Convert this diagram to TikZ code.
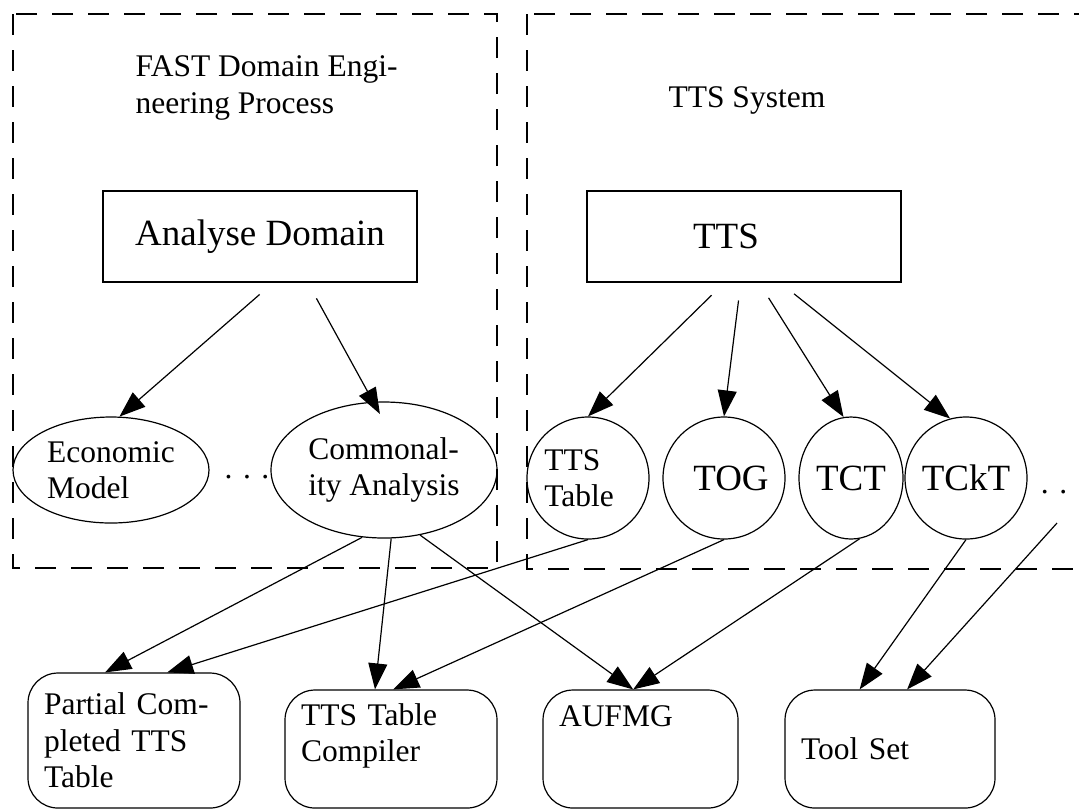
\documentclass[tikz,border=0pt]{standalone}
\usepackage{fontspec}
\setmainfont{Liberation Serif}
\usetikzlibrary{arrows.meta,shapes.geometric}
\newcommand{\smalltext}{\fontsize{15.75}{18.25}\selectfont}
\newcommand{\bigtext}{\fontsize{18.5}{22}\selectfont}
\begin{document}
\begin{tikzpicture}[
  x=0.5pt, y=-0.5pt, line width=0.6pt,
  areaframe/.style={dash pattern=on 10.5pt off 7.5pt},
  procbox/.style={draw, rectangle, minimum width=157pt, minimum height=45.5pt, font=\bigtext},
  docellipse/.style={draw, ellipse, inner sep=0pt, align=left, font=\smalltext},
  toolcircle/.style={draw, circle, minimum size=61pt, inner sep=0pt, align=left},
  productbox/.style={draw, rectangle, rounded corners=15pt, inner xsep=8pt, align=left, font=\smalltext},
  arrow/.style={-{Triangle[length=13pt,width=9.5pt]}}
]
\useasboundingbox (0,0) rectangle (1079,811);
\clip (0,0) rectangle (1079,811);
\draw[areaframe] (13,14) rectangle (497,568);
\draw[areaframe] (527,14) rectangle (1120,569);
\node[anchor=north west, inner sep=0pt, align=left, font=\smalltext] (fasttitle) at (135,55.5) {FAST Domain Engi-\\neering Process};
\node[anchor=base west, inner sep=0pt, font=\smalltext] (ttstitle) at (668,107) {TTS System};
\node[procbox] (ana) at (260,236.5) {Analyse Domain};
\node[procbox] (tts) at (744,236.5) {TTS\hspace*{18pt}};
\node[docellipse, minimum width=98pt, minimum height=53pt] (econ) at (111,470) {Economic\\Model};
\node[docellipse, minimum width=113pt, minimum height=68pt] (comm) at (384,470) {Commonal-\\ity Analysis};
\node[font=\smalltext] (moreleft) at (247,477) {. . .};
\node[toolcircle, font=\smalltext] (ttstab) at (588,478) {TTS\\Table\hspace*{9pt}};
\node[toolcircle, font=\bigtext] (tog) at (724,478) {\hspace*{7pt}TOG};
\node[draw, ellipse, minimum width=52pt, minimum height=61pt, inner sep=0pt, font=\bigtext] (tct) at (851,478) {TCT};
\node[toolcircle, font=\bigtext] (tckt) at (966,478) {TCkT};
\node[font=\smalltext] (moreright) at (1054,492) {. .};
\coordinate (more) at (1057,523);
\node[productbox, text width=90pt, minimum height=67.5pt] (part) at (134,740.5) {Partial Com-\\pleted TTS\\Table};
\node[productbox, text width=90pt, minimum height=59pt, text depth=34.5pt] (comp) at (391,749) {TTS Table\\Compiler};
\node[productbox, text width=81.5pt, minimum height=59pt, text depth=32.5pt] (aufmg) at (640.5,749) {AUFMG};
\node[productbox, text width=89pt, minimum height=59pt] (tools) at (890,749) {Tool Set};
\draw[arrow, shorten <=9pt] (ana.-74) -- (econ.81);
\draw[arrow, shorten <=9pt, shorten >=-7pt] (ana.-44) -- (comm.99);
\draw[arrow, shorten <=9pt] (tts.-113) -- (ttstab.north);
\draw[arrow, shorten <=9pt] (tts.-94) -- (tog.north);
\draw[arrow, shorten <=9pt] (tts.-72) -- (tct.97);
\draw[arrow, shorten <=9pt] (tts.-52) -- (tckt.105);
\draw[arrow] (comm.-108) -- (part.113);
\draw[arrow] (ttstab.south) -- (part.64);
\draw[arrow] (comm.-84) -- (comp.105);
\draw[arrow] (tog.south) -- (comp.88);
\draw[arrow] (comm.-61) -- (aufmg.97);
\draw[arrow] (tct.-82) -- (aufmg.97);
\draw[arrow] (tckt.south) -- (tools.117);
\draw[arrow] (more) -- (tools.74);
\end{tikzpicture}
\end{document}
